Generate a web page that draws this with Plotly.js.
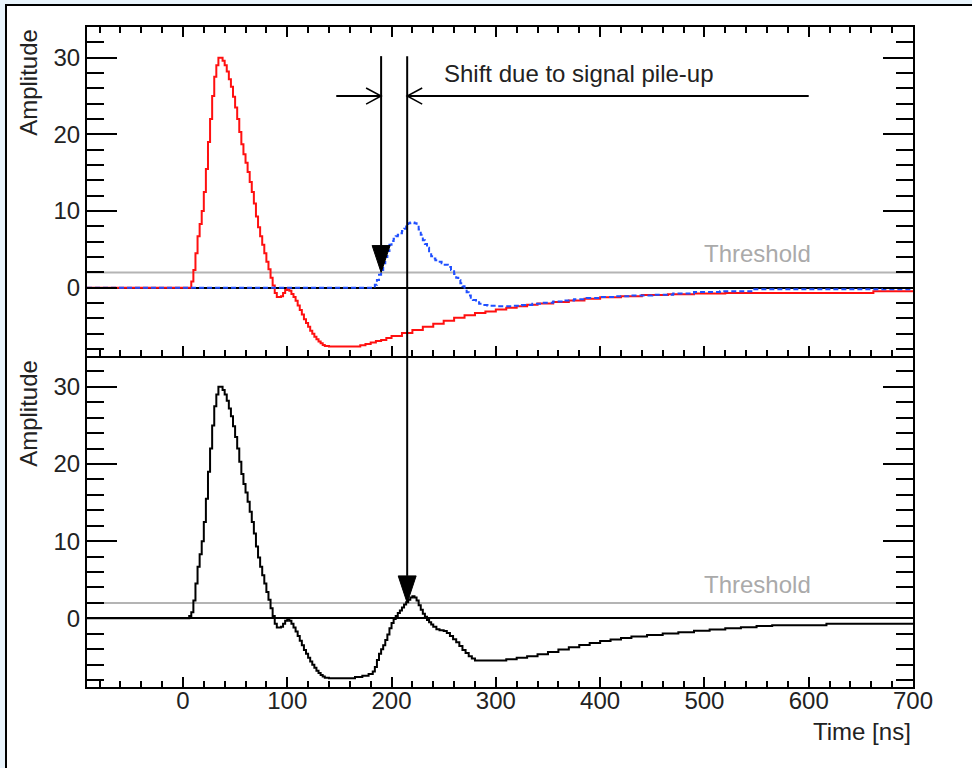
<!DOCTYPE html>
<html>
<head>
<meta charset="utf-8">
<script src="https://cdn.plot.ly/plotly-3.0.1.min.js"></script>
<style>
  html, body { margin:0; padding:0; background:#e9f4fc; width:972px; height:768px; overflow:hidden; }
  #frame { position:absolute; left:5px; top:4px; width:1000px; height:800px; background:#ffffff; border-left:2px solid #000; border-top:2px solid #000; }
  #chart { position:absolute; left:0; top:0; width:972px; height:768px; }
</style>
</head>
<body>
<div id="frame"></div>
<div id="chart"></div>
<script>
// ---- data ----
const redT = [-92, 8, 10, 12, 14, 16, 18, 20, 22, 24, 26, 28, 30, 32, 34, 36, 38, 40, 42, 44, 46, 48, 50, 52, 54, 56, 58, 60, 62, 64, 66, 68, 70, 72, 74, 76, 78, 80, 82, 84, 86, 88, 90, 92, 94, 96, 98, 100, 102, 104, 106, 108, 110, 112, 114, 116, 118, 120, 122, 124, 126, 128, 130, 132, 134, 136, 140, 170, 175, 180, 185, 190, 195, 200, 210, 220, 230, 240, 250, 260, 270, 280, 290, 300, 310, 320, 330, 340, 355, 370, 385, 400, 420, 440, 465, 490, 520, 662, 700];
const redA = [0, 0.8, 2.3, 4.5, 6.7, 8.3, 10.0, 12.5, 15.5, 19.0, 22.0, 25.0, 27.5, 29.0, 30.0, 30.0, 29.6, 29.0, 28.2, 27.2, 26.2, 24.9, 23.5, 22.0, 20.3, 18.7, 17.4, 16.3, 15.1, 13.8, 12.5, 11.0, 9.3, 7.9, 6.7, 5.6, 4.5, 3.4, 2.4, 1.3, 0.3, -0.7, -1.2, -1.2, -1.1, -0.7, -0.3, -0.1, -0.4, -0.8, -1.2, -1.7, -2.3, -2.9, -3.5, -4.1, -4.6, -5.1, -5.6, -6.0, -6.4, -6.7, -7.0, -7.25, -7.45, -7.6, -7.65, -7.5, -7.35, -7.15, -6.95, -6.8, -6.55, -6.3, -5.9, -5.5, -5.1, -4.7, -4.3, -3.9, -3.6, -3.3, -3.1, -2.85, -2.6, -2.4, -2.2, -2.05, -1.85, -1.65, -1.45, -1.25, -1.1, -0.95, -0.85, -0.75, -0.7, -0.45, -0.45];

const blueT = [-92, 184, 186, 188, 190, 192, 194, 196, 198, 200, 202, 204, 206, 208, 210, 212, 214, 216, 218, 220, 222, 224, 226, 228, 230, 232, 234, 236, 238, 240, 242, 245, 248, 251, 254, 257, 260, 262, 264, 266, 268, 270, 272, 274, 276, 278, 281, 284, 288, 292, 300, 315, 325, 335, 345, 355, 365, 375, 387, 400, 415, 430, 450, 470, 490, 515, 545, 700];
const blueA = [0, 0.4, 1.0, 1.7, 2.3, 3.2, 4.0, 4.8, 5.6, 6.1, 6.4, 6.7, 6.9, 7.1, 7.4, 7.7, 8.0, 8.4, 8.5, 8.5, 8.4, 8.2, 7.6, 6.9, 6.2, 5.7, 5.2, 4.6, 4.1, 3.8, 3.6, 3.4, 3.2, 3.0, 2.7, 2.3, 1.8, 1.3, 1.0, 0.6, 0.2, -0.2, -0.6, -1.0, -1.3, -1.6, -1.9, -2.1, -2.25, -2.35, -2.4, -2.35, -2.25, -2.1, -1.95, -1.8, -1.65, -1.5, -1.35, -1.2, -1.1, -1.0, -0.9, -0.75, -0.55, -0.45, -0.2, -0.2];

const sumT = [-92, 6, 8, 10, 12, 14, 16, 18, 20, 22, 24, 26, 28, 30, 32, 34, 36, 38, 40, 42, 44, 46, 48, 50, 52, 54, 56, 58, 60, 62, 64, 66, 68, 70, 72, 74, 76, 78, 80, 82, 84, 86, 88, 90, 92, 94, 96, 98, 100, 102, 104, 106, 108, 110, 112, 114, 116, 118, 120, 122, 124, 126, 128, 130, 132, 134, 136, 140, 165, 172, 178, 182, 184, 186, 188, 190, 192, 194, 196, 198, 200, 202, 204, 206, 208, 210, 212, 214, 216, 218, 220, 222, 224, 226, 228, 230, 232, 234, 236, 238, 240, 243, 246, 250, 253, 256, 259, 262, 265, 268, 271, 274, 277, 280, 310, 320, 330, 340, 350, 360, 370, 380, 390, 400, 410, 420, 430, 445, 460, 475, 490, 505, 520, 535, 550, 565, 617, 700];
const sumA = [0, 0.3, 0.8, 2.3, 4.5, 6.7, 8.3, 10.0, 12.5, 15.5, 19.0, 22.0, 25.0, 27.5, 29.0, 30.0, 30.0, 29.6, 29.0, 28.2, 27.2, 26.2, 24.9, 23.5, 22.0, 20.3, 18.7, 17.4, 16.3, 15.1, 13.8, 12.5, 11.0, 9.3, 7.9, 6.7, 5.6, 4.5, 3.4, 2.4, 1.3, 0.3, -0.7, -1.2, -1.2, -1.1, -0.7, -0.3, -0.1, -0.3, -0.7, -1.2, -1.7, -2.3, -2.9, -3.5, -4.1, -4.6, -5.1, -5.6, -6.0, -6.4, -6.8, -7.1, -7.35, -7.55, -7.7, -7.75, -7.6, -7.45, -7.2, -6.9, -6.3, -5.4, -4.6, -4.0, -3.5, -2.8, -2.1, -1.3, -0.6, -0.1, 0.3, 0.7, 1.0, 1.4, 1.8, 2.1, 2.4, 2.7, 2.85, 2.7, 2.3, 1.7, 1.1, 0.6, 0.2, -0.2, -0.5, -0.8, -1.1, -1.4, -1.55, -1.65, -1.9, -2.3, -2.7, -3.1, -3.6, -4.1, -4.5, -4.9, -5.2, -5.45, -5.3, -5.1, -4.9, -4.65, -4.35, -4.05, -3.75, -3.45, -3.2, -2.95, -2.75, -2.55, -2.35, -2.15, -1.95, -1.8, -1.6, -1.45, -1.3, -1.15, -1.0, -0.9, -0.7, -0.7];

const threshold = 2;
const xTickVals = [0, 100, 200, 300, 400, 500, 600, 700];
const yTickVals = [0, 10, 20, 30];
const arrowX = [190, 215];        // vertical arrows (ns)
const arrowTopY = 30.2;           // where the vertical arrows start
const shiftY = 25;                // height of the horizontal "shift" marker
const shiftSpan = [147, 600];     // outer ends of the horizontal marker
const shiftText = 'Shift due to signal pile-up';
const shiftTextPos = [248, 28];
const thresholdText = 'Threshold';
const thresholdTextPos = [604, 4.45];
const yTitle = 'Amplitude';
const xTitle = 'Time [ns]';

// ---- style constants ----
const FONT = 'Liberation Sans, Arial, sans-serif';
const headLen = 3.5, headHalfW = 8.6;      // filled arrowhead (y units, ns)
const openLen = 14.4, openHalfH = 1.05;    // open arrowhead (ns, y units)
const splitY = 0.5015;

function axisX(showLabels, mirror) {
  return {
    range: [-92, 700], showgrid: false, zeroline: false,
    showline: true, linecolor: '#000', linewidth: 2, mirror: mirror,
    ticks: 'inside', ticklen: 10, tickwidth: 2, tickcolor: '#000',
    tickvals: xTickVals, showticklabels: showLabels, ticklabelstandoff: -9,
    minor: { dtick: 20, tick0: 0, ticks: 'inside', ticklen: 6, tickwidth: 2, tickcolor: '#000' },
    tickfont: { family: FONT, size: 24, color: '#222' }
  };
}
function axisY(domain, anchor) {
  return {
    domain: domain, anchor: anchor, range: [-8.9, 34.0], showgrid: false,
    zeroline: true, zerolinecolor: '#000', zerolinewidth: 2,
    showline: true, linecolor: '#000', linewidth: 2, mirror: 'ticks',
    ticks: 'inside', ticklen: 30, tickwidth: 2, tickcolor: '#000',
    tickvals: yTickVals,
    minor: { dtick: 2, tick0: 0, ticks: 'inside', ticklen: 17, tickwidth: 2, tickcolor: '#000' },
    tickfont: { family: FONT, size: 24, color: '#222' }
  };
}

const traces = [
  { x: redT, y: redA, xaxis: 'x', yaxis: 'y', type: 'scatter', mode: 'lines',
    line: { color: '#ff1010', width: 2, shape: 'hv' }, hoverinfo: 'skip' },
  { x: blueT, y: blueA, xaxis: 'x', yaxis: 'y', type: 'scatter', mode: 'lines',
    line: { color: '#1f4fff', width: 2, shape: 'hv', dash: '5px,3px' }, hoverinfo: 'skip' },
  { x: sumT, y: sumA, xaxis: 'x2', yaxis: 'y2', type: 'scatter', mode: 'lines',
    line: { color: '#000', width: 2, shape: 'hv' }, hoverinfo: 'skip' }
];

const shapes = [];
// threshold lines
['y', 'y2'].forEach(function (yr) {
  shapes.push({ type: 'line', xref: 'paper', yref: yr, x0: 0, x1: 1, y0: threshold, y1: threshold,
    line: { color: '#b4b4b4', width: 2 }, layer: 'below' });
});
// vertical arrow 1 (top panel only)
shapes.push({ type: 'line', xref: 'x', yref: 'y', x0: arrowX[0], x1: arrowX[0], y0: arrowTopY, y1: threshold + headLen,
  line: { color: '#000', width: 2 } });
shapes.push({ type: 'path', xref: 'x', yref: 'y',
  path: 'M' + (arrowX[0] - headHalfW) + ',' + (threshold + headLen) + ' L' + (arrowX[0] + headHalfW) + ',' + (threshold + headLen) + ' L' + arrowX[0] + ',' + threshold + ' Z',
  fillcolor: '#000', line: { color: '#000', width: 1 } });
// vertical arrow 2 (through both panels)
shapes.push({ type: 'line', xref: 'x', yref: 'y', x0: arrowX[1], x1: arrowX[1], y0: arrowTopY, y1: -8.9,
  line: { color: '#000', width: 2 } });
shapes.push({ type: 'line', xref: 'x2', yref: 'y2', x0: arrowX[1], x1: arrowX[1], y0: 34.0, y1: threshold + headLen,
  line: { color: '#000', width: 2 } });
shapes.push({ type: 'path', xref: 'x2', yref: 'y2',
  path: 'M' + (arrowX[1] - headHalfW) + ',' + (threshold + headLen) + ' L' + (arrowX[1] + headHalfW) + ',' + (threshold + headLen) + ' L' + arrowX[1] + ',' + threshold + ' Z',
  fillcolor: '#000', line: { color: '#000', width: 1 } });
// horizontal shift marker
shapes.push({ type: 'line', xref: 'x', yref: 'y', x0: shiftSpan[0], x1: arrowX[0], y0: shiftY, y1: shiftY,
  line: { color: '#000', width: 2 } });
shapes.push({ type: 'line', xref: 'x', yref: 'y', x0: arrowX[1], x1: shiftSpan[1], y0: shiftY, y1: shiftY,
  line: { color: '#000', width: 2 } });
shapes.push({ type: 'path', xref: 'x', yref: 'y',
  path: 'M' + (arrowX[0] - openLen) + ',' + (shiftY + openHalfH) + ' L' + arrowX[0] + ',' + shiftY + ' L' + (arrowX[0] - openLen) + ',' + (shiftY - openHalfH),
  line: { color: '#000', width: 1.5 } });
shapes.push({ type: 'path', xref: 'x', yref: 'y',
  path: 'M' + (arrowX[1] + openLen) + ',' + (shiftY + openHalfH) + ' L' + arrowX[1] + ',' + shiftY + ' L' + (arrowX[1] + openLen) + ',' + (shiftY - openHalfH),
  line: { color: '#000', width: 1.5 } });

const annotations = [
  { text: shiftText, xref: 'x', yref: 'y', x: shiftTextPos[0], y: shiftTextPos[1], xanchor: 'left', yanchor: 'middle',
    showarrow: false, font: { family: FONT, size: 24, color: '#222' } },
  { text: thresholdText, xref: 'x', yref: 'y', x: thresholdTextPos[0], y: thresholdTextPos[1], xanchor: 'right', yanchor: 'middle',
    showarrow: false, font: { family: FONT, size: 24, color: '#aaaaaa' } },
  { text: thresholdText, xref: 'x2', yref: 'y2', x: thresholdTextPos[0], y: thresholdTextPos[1], xanchor: 'right', yanchor: 'middle',
    showarrow: false, font: { family: FONT, size: 24, color: '#aaaaaa' } },
  { text: yTitle, xref: 'paper', yref: 'paper', x: -0.071, y: 1.0, xanchor: 'center', yanchor: 'top', textangle: -90,
    showarrow: false, font: { family: FONT, size: 24, color: '#222' } },
  { text: yTitle, xref: 'paper', yref: 'paper', x: -0.071, y: splitY - 0.003, xanchor: 'center', yanchor: 'top', textangle: -90,
    showarrow: false, font: { family: FONT, size: 24, color: '#222' } },
  { text: xTitle, xref: 'paper', yref: 'paper', x: 1.0, y: -0.068, xanchor: 'right', yanchor: 'middle',
    showarrow: false, font: { family: FONT, size: 24, color: '#222' } }
];

const layout = {
  width: 972, height: 768,
  margin: { l: 87, r: 59, t: 27, b: 81 },
  paper_bgcolor: 'rgba(0,0,0,0)', plot_bgcolor: '#ffffff',
  showlegend: false,
  xaxis: Object.assign(axisX(false, 'ticks'), { anchor: 'y' }),
  xaxis2: Object.assign(axisX(true, false), { anchor: 'y2' }),
  yaxis: axisY([splitY, 1], 'x'),
  yaxis2: axisY([0, splitY], 'x2'),
  shapes: shapes,
  annotations: annotations
};

Plotly.newPlot('chart', traces, layout, { displayModeBar: false, staticPlot: true });
</script>
</body>
</html>
